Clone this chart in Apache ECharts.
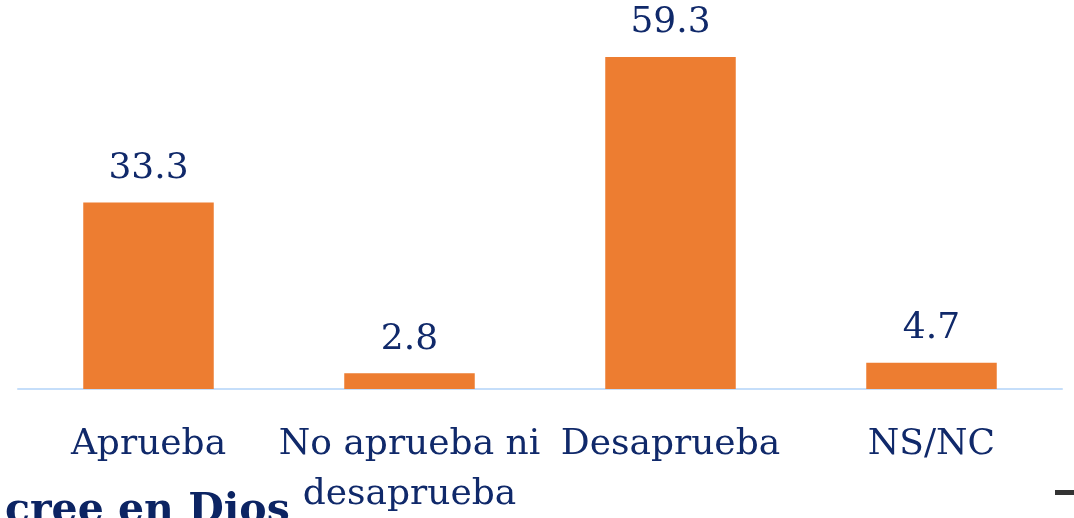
<!DOCTYPE html>
<html>
<head>
<meta charset="utf-8">
<script src="https://cdn.jsdelivr.net/npm/echarts@6/dist/echarts.min.js"></script>
<style>
  html, body { margin: 0; padding: 0; background: #fff; }
</style>
</head>
<body>
<div id="chart" style="width: 1074px; height: 518px"></div>
<script>
const categories = ['Aprueba', 'No aprueba ni\ndesaprueba', 'Desaprueba', 'NS/NC'];
const values = [33.3, 2.8, 59.3, 4.7];

const chart = echarts.init(document.getElementById('chart'));
const navy = '#10296a';

const option = {
  animation: false,
  grid: {
    left: 18,
    right: 12,
    top: 53,
    bottom: 129,
    outerBoundsMode: 'none',
    containLabel: false
  },
  xAxis: {
    type: 'category',
    data: categories,
    axisTick: { show: false },
    axisLine: {
      lineStyle: { color: '#c5defa', width: 2 }
    },
    axisLabel: {
      interval: 0,
      margin: 31,
      color: navy,
      fontFamily: 'DejaVu Serif',
      fontSize: 36,
      lineHeight: 50
    }
  },
  yAxis: {
    type: 'value',
    min: 0,
    max: 60,
    show: false,
    splitLine: { show: false }
  },
  series: [
    {
      type: 'bar',
      data: values,
      barWidth: '50%',
      itemStyle: { color: '#ed7d31' },
      label: {
        show: true,
        position: 'top',
        distance: 16,
        color: navy,
        fontFamily: 'DejaVu Serif',
        fontSize: 36,
        formatter: function (p) {
          return p.value.toFixed(1);
        }
      }
    }
  ],
  graphic: [
    {
      type: 'text',
      left: 5,
      top: 491,
      style: {
        text: 'cree en Dios',
        fill: '#0c2463',
        font: 'bold 41px "DejaVu Serif"'
      }
    },
    {
      type: 'rect',
      shape: { x: 1055, y: 490, width: 19, height: 5 },
      style: { fill: '#333' }
    }
  ]
};
chart.setOption(option);
</script>
</body>
</html>
